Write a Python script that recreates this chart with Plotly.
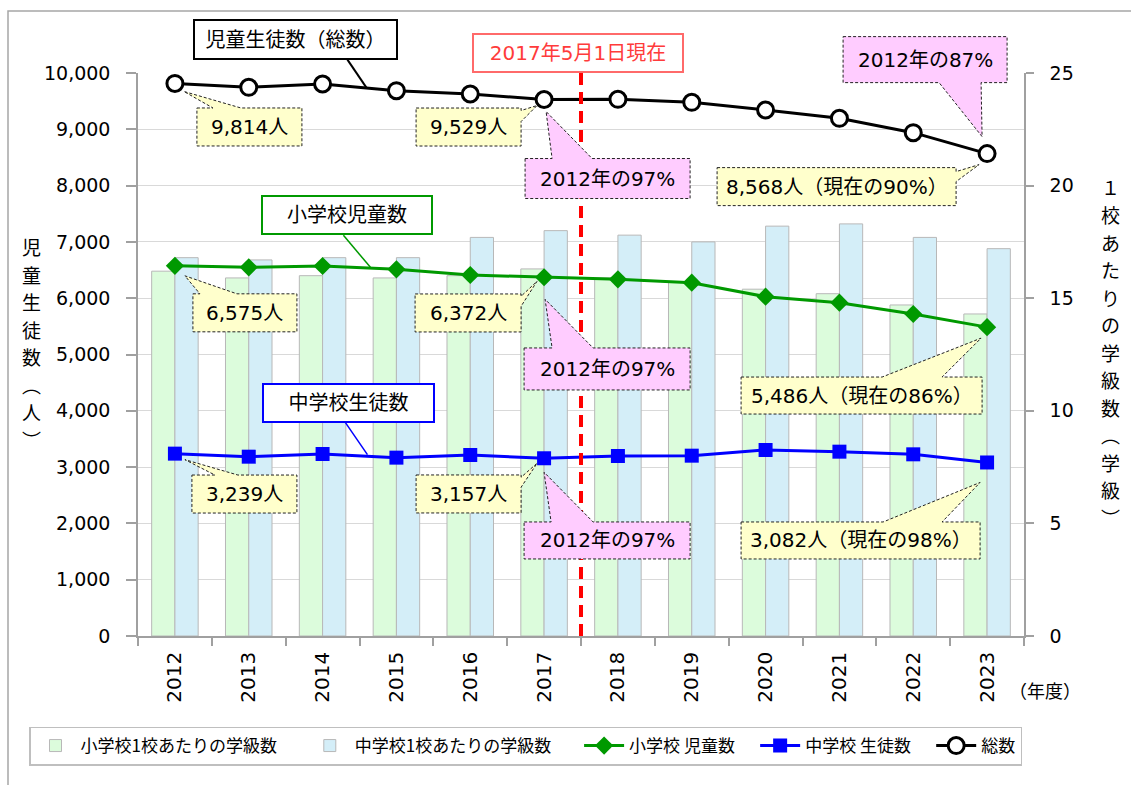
import plotly.graph_objects as go

# ---------------- data ----------------
years = [2012, 2013, 2014, 2015, 2016, 2017, 2018, 2019, 2020, 2021, 2022, 2023]
elem_classes = [16.2, 15.9, 16.0, 15.9, 16.0, 16.3, 15.9, 15.7, 15.4, 15.2, 14.7, 14.3]
jh_classes = [16.8, 16.7, 16.8, 16.8, 17.7, 18.0, 17.8, 17.5, 18.2, 18.3, 17.7, 17.2]
elem_students = [6575, 6548, 6572, 6513, 6412, 6372, 6335, 6276, 6027, 5920, 5719, 5486]
jh_students = [3239, 3185, 3233, 3168, 3215, 3157, 3197, 3203, 3304, 3274, 3227, 3082]
total_students = [9814, 9746, 9805, 9686, 9627, 9529, 9533, 9480, 9343, 9195, 8940, 8568]
current_year = 2017

FONT = "DejaVu Sans, Noto Sans CJK JP"
CJK = "Noto Sans CJK JP"
W, H = 1131, 785
ML, MR, MT, MB = 138, 107, 73, 149
PW, PH = W - ML - MR, H - MT - MB
XMIN, XMAX = years[0] - 0.5, years[-1] + 0.5
YMAX_L, YMAX_R = 10000, 25

NB = "\u00a0"
fig = go.Figure()

# bars (primary y axis, right side)
fig.add_trace(go.Bar(x=years, y=elem_classes, name="小学校1校あたりの学級数" + NB * 6,
                     marker=dict(color="#DCFCDC", line=dict(color="#B8B8B8", width=1)),
                     yaxis="y"))
fig.add_trace(go.Bar(x=years, y=jh_classes, name="中学校1校あたりの学級数" + NB * 6,
                     marker=dict(color="#D4EEF8", line=dict(color="#B8B8B8", width=1)),
                     yaxis="y"))
# lines (overlay y axis, left side)
fig.add_trace(go.Scatter(x=years, y=elem_students, name="小学校 児童数" + NB * 4,
                         mode="lines+markers", line=dict(color="#009900", width=3),
                         marker=dict(symbol="diamond", size=14, color="#009900"),
                         yaxis="y2"))
fig.add_trace(go.Scatter(x=years, y=jh_students, name="中学校 生徒数" + NB * 4,
                         mode="lines+markers", line=dict(color="#0000FF", width=3),
                         marker=dict(symbol="square", size=14, color="#0000FF"),
                         yaxis="y2"))
fig.add_trace(go.Scatter(x=years, y=total_students, name="総数", mode="lines+markers",
                         line=dict(color="#000000", width=3),
                         marker=dict(symbol="circle", size=16, color="white",
                                     line=dict(color="black", width=3)),
                         yaxis="y2"))

series = {"total": total_students, "elem": elem_students, "jh": jh_students}
YEL, PINK = "#FFFFCC", "#FFCCFF"

# callouts: offsets in screen pixels relative to the data point (down = positive)
callouts = [
    dict(s="total", i=0, text="9,814人", fill=YEL, c=(74.5, 43.5), wh=(105, 38), side="top", b=(38, 66), tip=(9, 8)),
    dict(s="total", i=5, text="9,529人", fill=YEL, c=(-75.5, 27.5), wh=(105, 38), side="right", b=(11, 22), tip=(-7, 6)),
    dict(s="total", i=5, text="2012年の97%", fill=PINK, c=(63.5, 79), wh=(165, 40), side="top", b=(8, 48), tip=(2, 12)),
    dict(s="total", i=11, text="8,568人（現在の90%）", fill=YEL, c=(-150.5, 33), wh=(239, 38), side="right", b=(18, 28), tip=(-8, 11)),
    dict(s="total", i=11, text="2012年の87%", fill=PINK, c=(-62, -94), wh=(164, 46), side="bottom", b=(-48, -6), tip=(-5, -17)),
    dict(s="elem", i=0, text="6,575人", fill=YEL, c=(70, 47), wh=(104, 38), side="top", b=(25, 62), tip=(10, 10)),
    dict(s="elem", i=5, text="6,372人", fill=YEL, c=(-76, 35.7), wh=(106, 38), side="right", b=(19, 29), tip=(-7, 4)),
    dict(s="elem", i=5, text="2012年の97%", fill=PINK, c=(63, 91.7), wh=(166, 42), side="top", b=(8, 49), tip=(1, 22)),
    dict(s="elem", i=11, text="5,486人（現在の86%）", fill=YEL, c=(-125.5, 68.4), wh=(241, 37), side="top", b=(-105, -45), tip=(-6, 11)),
    dict(s="jh", i=0, text="3,239人", fill=YEL, c=(69.5, 40.4), wh=(105, 38), side="top", b=(40, 63), tip=(10, 6)),
    dict(s="jh", i=5, text="3,157人", fill=YEL, c=(-75.5, 35.7), wh=(105, 38), side="right", b=(19, 29), tip=(-7, 5)),
    dict(s="jh", i=5, text="2012年の97%", fill=PINK, c=(63, 82.2), wh=(166, 37), side="top", b=(7, 49), tip=(0, 14)),
    dict(s="jh", i=11, text="3,082人（現在の98%）", fill=YEL, c=(-126.5, 78), wh=(239, 37), side="top", b=(-104, -45), tip=(-7, 20)),
]

# series label boxes with leader lines (anchored at the 2015 point of the series)
labels = [
    dict(s="total", i=3, text="児童生徒数（総数）", color="#000000", c=(-101, -51), wh=(205, 41), p0=(-49, -31), p1=(-30, -3)),
    dict(s="elem", i=3, text="小学校児童数", color="#009900", c=(-49, -54), wh=(172, 40), p0=(-53, -34), p1=(-26, -2)),
    dict(s="jh", i=3, text="中学校生徒数", color="#0000FF", c=(-48, -55), wh=(173, 40), p0=(-51, -35), p1=(-29, -3)),
]


def px_frac(x):
    return (x - XMIN) / (XMAX - XMIN)


def py_frac(v):
    return v / YMAX_L


def bubble_path(cx, cy, w, h, side, b, tip):
    L, R, T, B = cx - w / 2, cx + w / 2, cy - h / 2, cy + h / 2
    b1, b2 = sorted(b)
    pts = [(L, T)]
    if side == "top":
        pts += [(b1, T), tip, (b2, T)]
    pts.append((R, T))
    if side == "right":
        pts += [(R, b1), tip, (R, b2)]
    pts.append((R, B))
    if side == "bottom":
        pts += [(b2, B), tip, (b1, B)]
    pts.append((L, B))
    if side == "left":
        pts += [(L, b2), tip, (L, b1)]
    return "M " + " L ".join(f"{x:.1f},{-y:.1f}" for x, y in pts) + " Z"


shapes = []
annotations = []

# vertical dashed "current" line at boundary between current year and next
xline = current_year + 0.5
shapes.append(dict(type="line", xref="x", yref="paper", x0=xline, x1=xline, y0=0, y1=1,
                   line=dict(color="#FF0000", width=4, dash="12px,7px"), layer="above"))
annotations.append(dict(xref="x", yref="paper", x=xline, y=1, xshift=-3, yshift=20,
                        text="2017年5月1日現在", showarrow=False,
                        font=dict(family=FONT, size=20, color="#FF3B3B"),
                        bgcolor="white", bordercolor="#FF6A6A", borderwidth=2, borderpad=0,
                        width=208, height=36, xanchor="center", yanchor="middle"))

for co in callouts:
    yv = series[co["s"]][co["i"]]
    xv = years[co["i"]]
    cx, cy = co["c"]
    w, h = co["wh"]
    shapes.append(dict(type="path", xref="paper", yref="paper", xsizemode="pixel", ysizemode="pixel",
                       xanchor=px_frac(xv), yanchor=py_frac(yv),
                       path=bubble_path(cx, cy, w, h, co["side"], co["b"], co["tip"]),
                       fillcolor=co["fill"], line=dict(color="#222222", width=1, dash="3px,2px"),
                       layer="above"))
    annotations.append(dict(x=xv, y=yv, xref="x", yref="y2", xshift=cx, yshift=-cy,
                            text=co["text"], showarrow=False,
                            font=dict(family=FONT, size=20, color="black"),
                            xanchor="center", yanchor="middle"))

for lb in labels:
    yv = series[lb["s"]][lb["i"]]
    xv = years[lb["i"]]
    shapes.append(dict(type="line", xref="paper", yref="paper", xsizemode="pixel", ysizemode="pixel",
                       xanchor=px_frac(xv), yanchor=py_frac(yv),
                       x0=lb["p0"][0], y0=-lb["p0"][1], x1=lb["p1"][0], y1=-lb["p1"][1],
                       line=dict(color=lb["color"], width=2 if lb["s"] == "total" else 1.5),
                       layer="above"))
    w, h = lb["wh"]
    annotations.append(dict(x=xv, y=yv, xref="x", yref="y2", xshift=lb["c"][0], yshift=-lb["c"][1],
                            text=lb["text"], showarrow=False,
                            font=dict(family=FONT, size=20, color="black"),
                            bgcolor="white", bordercolor=lb["color"], borderwidth=2, borderpad=0,
                            width=w - 4, height=h - 4, xanchor="center", yanchor="middle"))

# axis titles (vertical stacked characters)
left_chars = list("児童生徒数") + ["︵", "人", "︶"]
right_chars = ["１"] + list("校あたりの学級数") + ["︵", "学", "級", "︶"]
STEP = 27.5


def stack(chars, xc, ycenter):
    n = len(chars)
    for k, ch in enumerate(chars):
        ypx = ycenter + (k - (n - 1) / 2) * STEP
        annotations.append(dict(xref="paper", yref="paper", x=(xc - ML) / PW, y=(636 - ypx) / PH,
                                text=ch, showarrow=False, xanchor="center", yanchor="middle",
                                font=dict(family=CJK, size=19, color="black")))


stack(left_chars, 31, 343)
stack(right_chars, 1110, 352)
annotations.append(dict(xref="paper", yref="paper", x=(1045 - ML) / PW, y=(636 - 690) / PH,
                        text="（年度）", showarrow=False, xanchor="center", yanchor="middle",
                        font=dict(family=CJK, size=18, color="black")))

# outer chart border
shapes.append(dict(type="rect", xref="paper", yref="paper",
                   x0=(8 - ML) / PW, x1=(W + 10 - ML) / PW,
                   y0=(636 - (H + 10)) / PH, y1=(636 - 11) / PH,
                   line=dict(color="#A6A6A6", width=1.5), fillcolor="rgba(0,0,0,0)", layer="below"))

boundaries = [y - 0.5 for y in years] + [years[-1] + 0.5]
ytick_font = dict(family=FONT, size=19, color="black")
fig.update_layout(
    width=W, height=H,
    margin=dict(l=ML, r=MR, t=MT, b=MB),
    paper_bgcolor="white", plot_bgcolor="white",
    barmode="group", bargap=0.37, bargroupgap=0,
    font=dict(family=FONT, size=18, color="black"),
    xaxis=dict(type="linear", range=[XMIN, XMAX],
               tickmode="array", tickvals=years, ticktext=[str(y) for y in years],
               tickangle=-90, tickfont=dict(family=FONT, size=20, color="black"),
               ticks="", showline=True, linecolor="#A0A0A0", linewidth=1.5, showgrid=False,
               zeroline=False, ticklabelstandoff=6,
               minor=dict(tickmode="array", tickvals=boundaries, ticks="outside", ticklen=8,
                          tickcolor="#A0A0A0", tickwidth=1.5, showgrid=False)),
    yaxis=dict(side="right", range=[0, YMAX_R], dtick=5, tickfont=ytick_font,
               showgrid=True, gridcolor="#D9D9D9", gridwidth=1,
               minor=dict(dtick=2.5, showgrid=True, gridcolor="#D9D9D9", gridwidth=1),
               ticks="outside", ticklen=8, tickcolor="#A0A0A0", tickwidth=1.5, showline=True,
               linecolor="#A0A0A0", linewidth=1.5, ticklabelstandoff=12, zeroline=False),
    yaxis2=dict(overlaying="y", side="left", range=[0, YMAX_L], dtick=1000, tickformat=",",
                tickfont=ytick_font, showgrid=False, ticks="outside", ticklen=10,
                tickcolor="#A0A0A0", tickwidth=1.5, showline=True, linecolor="#A0A0A0",
                linewidth=1.5, ticklabelstandoff=12, zeroline=False),
    legend=dict(orientation="h", xref="paper", yref="paper",
                x=(29 - ML) / PW, xanchor="left", y=(636 - 746) / PH, yanchor="middle",
                bordercolor="#BFBFBF", borderwidth=1.5, bgcolor="white",
                font=dict(family=CJK, size=17, color="black"), itemwidth=40),
    shapes=shapes, annotations=annotations,
)

fig.write_html("out.html")
